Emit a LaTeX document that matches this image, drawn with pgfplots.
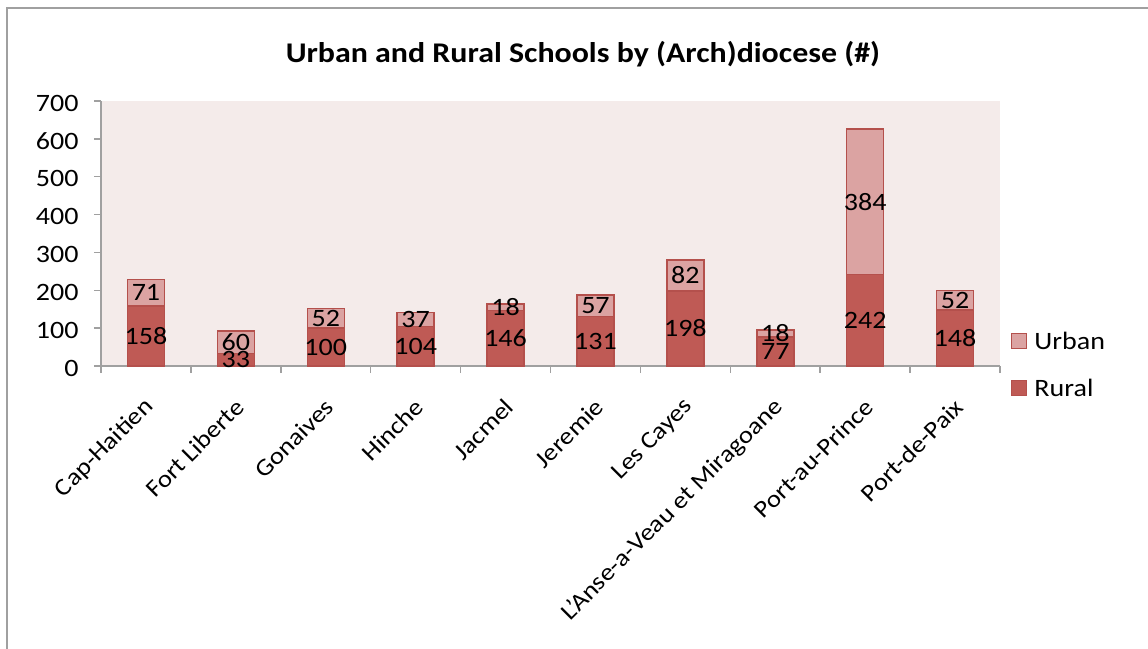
\documentclass[border=0pt]{standalone}
\usepackage{pgfplots}
\pgfplotsset{compat=1.18}
\usepackage{fontspec}
\setmainfont{Carlito}[FakeStretch=1.12]
\definecolor{rural}{HTML}{BF5A55}
\definecolor{urban}{HTML}{DBA3A2}
\definecolor{bord}{HTML}{B4504C}
\definecolor{bg}{HTML}{F4EBEA}
\definecolor{axgray}{HTML}{A0A0A0}
\newcommand{\lbl}{\fontsize{25bp}{30bp}\selectfont}
\newcommand{\cat}{\fontsize{24bp}{29bp}\selectfont}
\begin{document}
\begin{tikzpicture}
\useasboundingbox (-101bp,-283bp) rectangle (1047bp,366bp);
\draw[color=axgray, line width=2bp] (-94bp,-300bp) -- (-94bp,358bp) -- (1060bp,358bp);
\begin{axis}[
  at={(0,0)}, anchor=south west,
  scale only axis, width=899bp, height=265bp,
  ybar stacked, bar width=37bp,
  ymin=0, ymax=700, xmin=-0.5, xmax=9.5,
  ytick={0,100,...,700},
  xtick={-0.5,0.5,...,9.5}, xticklabels={},
  extra x ticks={0,1,...,9},
  extra x tick labels={Cap-Haitien,Fort Liberte,Gonaives,Hinche,Jacmel,Jeremie,Les Cayes,L’Anse-a-Veau et Miragoane,Port-au-Prince,Port-de-Paix},
  extra x tick style={major tick length=0pt, tick label style={rotate=45, anchor=east, font=\cat, xshift=-20bp, yshift=-29bp}},
  /pgf/number format/assume math mode=true,
  tick align=outside, major tick length=7bp,
  tick style={axgray, line width=1.5bp},
  axis background/.style={fill=bg},
  axis x line*=bottom, axis y line*=left,
  axis line style={axgray, line width=1.5bp, -},
  yticklabel style={font=\lbl, xshift=-12bp, yshift=-2bp},
  title={\fontsize{28.5bp}{34bp}\selectfont\bfseries Urban and Rural Schools by (Arch)diocese (\#)},
  title style={at={(0.536,1.155)}, anchor=center},
  visualization depends on=rawy \as \rawy,
  nodes near coords={\pgfmathprintnumber{\rawy}},
  every node near coord/.append style={font=\lbl, text=black, anchor=center},
  legend style={at={(1.012,0.004)}, anchor=west, draw=none, fill=none, font=\lbl, row sep=24bp, inner sep=0pt},
  legend cell align=left,
  reverse legend,
  legend image code/.code={\draw[#1, line width=1.5bp] (0bp,-7bp) rectangle (15bp,8bp);},
]
\addplot[fill=rural, draw=bord, line width=1.5bp] coordinates {(0,158) (1,33) (2,100) (3,104) (4,146) (5,131) (6,198) (7,77) (8,242) (9,148)};
\addlegendentry{\hspace{5bp}Rural}
\addplot[fill=urban, draw=bord, line width=1.5bp] coordinates {(0,71) (1,60) (2,52) (3,37) (4,18) (5,57) (6,82) (7,18) (8,384) (9,52)};
\addlegendentry{\hspace{5bp}Urban}
\end{axis}
\end{tikzpicture}
\end{document}
